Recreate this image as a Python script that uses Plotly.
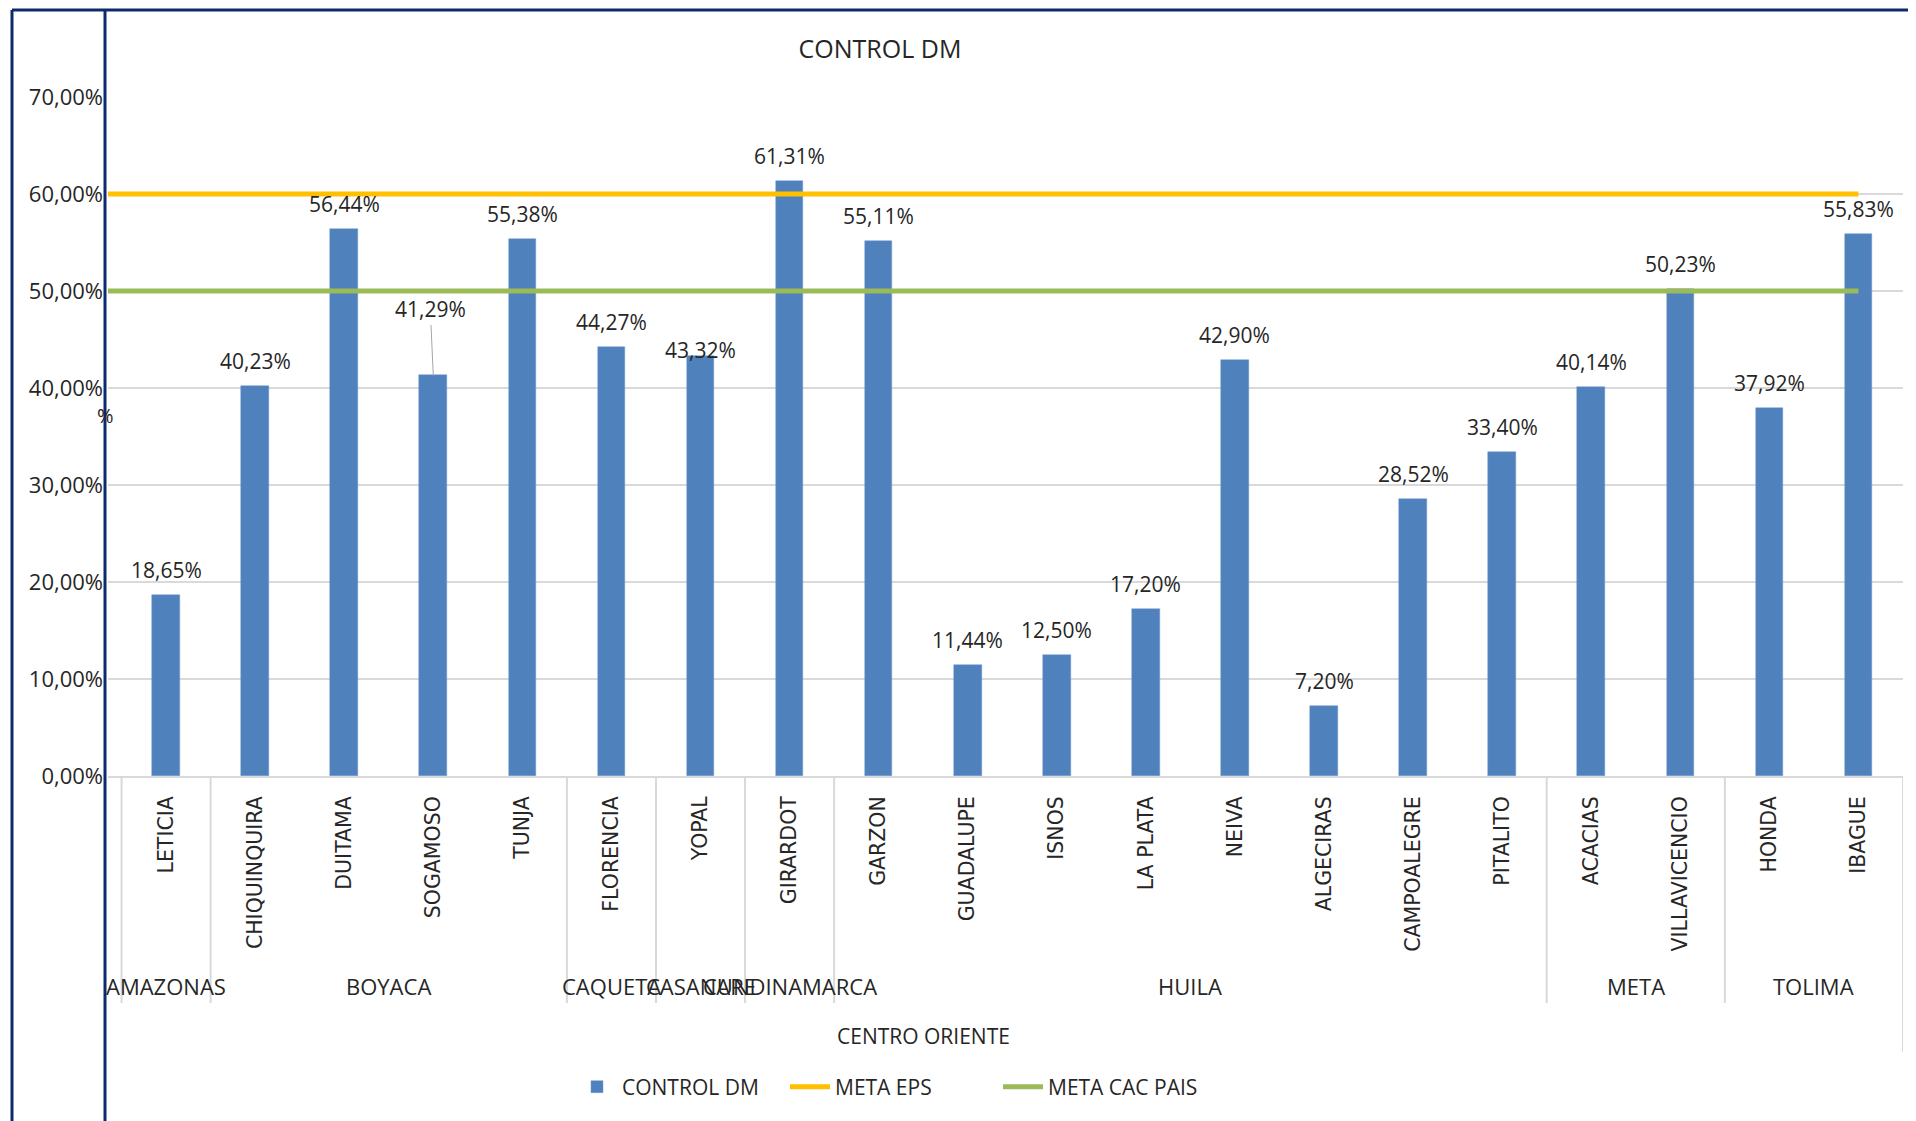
import plotly.graph_objects as go

# datos
ciudades = ['LETICIA', 'CHIQUINQUIRA', 'DUITAMA', 'SOGAMOSO', 'TUNJA', 'FLORENCIA', 'YOPAL',
            'GIRARDOT', 'GARZON', 'GUADALUPE', 'ISNOS', 'LA PLATA', 'NEIVA', 'ALGECIRAS',
            'CAMPOALEGRE', 'PITALITO', 'ACACIAS', 'VILLAVICENCIO', 'HONDA', 'IBAGUE']
departamentos = ['AMAZONAS', 'BOYACA', 'CAQUETA', 'CASANARE', 'CUNDINAMARCA', 'HUILA', 'META', 'TOLIMA']
ciudades_por_depto = [1, 4, 1, 1, 1, 8, 2, 2]
region = 'CENTRO ORIENTE'

control_dm = [18.65, 40.23, 56.44, 41.29, 55.38, 44.27, 43.32, 61.31, 55.11, 11.44,
              12.50, 17.20, 42.90, 7.20, 28.52, 33.40, 40.14, 50.23, 37.92, 55.83]
meta_eps = [60, 60, 60, 60, 60, 60, 60, 60, 60, 60, 60, 60, 60, 60, 60, 60, 60, 60, 60, 60]
meta_cac_pais = [50, 50, 50, 50, 50, 50, 50, 50, 50, 50, 50, 50, 50, 50, 50, 50, 50, 50, 50, 50]

y_ticks = [0, 10, 20, 30, 40, 50, 60, 70]

def pct(v):
    return f'{v:.2f}'.replace('.', ',') + '%'

# la pagina html deja 8px de margen alrededor de la figura
OFF = 8
W, H = 1916 - OFF, 1121 - OFF
ML, MR, MT, MB = 108 - OFF, 13, 97 - OFF, 1121 - 776
PW, PH = W - ML - MR, H - MT - MB
x_izq = -0.652
pos = list(range(len(ciudades)))

def px_x(p):
    # p en pixeles de la pagina
    return (p - OFF - ML) / PW

def px_y(p):
    return (H - MB - (p - OFF)) / PH

TXT = '#262626'
FONT = 'Open Sans'

fig = go.Figure()
fig.add_trace(go.Bar(
    x=pos, y=control_dm, name='CONTROL DM', width=0.31,
    marker=dict(color='#4F81BD', line=dict(color='#6E9AD0', width=0.5)),
))
fig.add_trace(go.Scatter(
    x=[x_izq] + pos, y=meta_eps[:1] + meta_eps, name='META EPS', mode='lines',
    line=dict(color='#FFC000', width=5),
))
fig.add_trace(go.Scatter(
    x=[x_izq] + pos, y=meta_cac_pais[:1] + meta_cac_pais, name='META CAC PAIS', mode='lines',
    line=dict(color='#9BBB59', width=5),
))

anots = []
# etiquetas de datos
for i, v in enumerate(control_dm):
    if ciudades[i] == 'SOGAMOSO':
        anots.append(dict(x=i, y=v, xref='x', yref='y', text=pct(v), showarrow=True,
                          arrowhead=0, arrowwidth=1, arrowcolor='#A6A6A6', ax=-3, ay=-66,
                          font=dict(family=FONT, size=21, color=TXT)))
    else:
        shift = 6 if ciudades[i] == 'YOPAL' else 25
        anots.append(dict(x=i, y=v, xref='x', yref='y', text=pct(v), showarrow=False,
                          yanchor='middle', yshift=shift,
                          font=dict(family=FONT, size=21, color=TXT)))

# departamentos y separadores
shapes = []
inicio = 0
bordes = [-0.5]
for depto, n in zip(departamentos, ciudades_por_depto):
    centro = inicio + (n - 1) / 2
    anots.append(dict(x=centro, y=px_y(986), xref='x', yref='paper', text=depto, showarrow=False,
                      yanchor='middle', font=dict(family=FONT, size=22, color=TXT)))
    inicio += n
    bordes.append(inicio - 0.5)
for j, b in enumerate(bordes):
    fondo = px_y(1052) if j == len(bordes) - 1 else px_y(1003)
    shapes.append(dict(type='line', xref='x', yref='paper', x0=b, x1=b, y0=0, y1=fondo,
                       line=dict(color='#D9D9D9', width=2)))

anots.append(dict(x=px_x(923), y=px_y(1036), xref='paper', yref='paper', text=region,
                  showarrow=False, yanchor='middle', font=dict(family=FONT, size=21, color=TXT)))
anots.append(dict(x=px_x(116), y=px_y(415), xref='paper', yref='paper', text='%', xanchor='right',
                  showarrow=False, yanchor='middle', font=dict(family=FONT, size=20, color=TXT)))

# marco azul de la diapositiva
NAVY = '#0E2A6E'
shapes += [
    dict(type='line', xref='paper', yref='paper', x0=px_x(12), x1=px_x(12), y0=px_y(10), y1=px_y(1130),
         line=dict(color=NAVY, width=3)),
    dict(type='line', xref='paper', yref='paper', x0=px_x(105), x1=px_x(105), y0=px_y(10), y1=px_y(1130),
         line=dict(color=NAVY, width=3)),
    dict(type='line', xref='paper', yref='paper', x0=px_x(12), x1=px_x(1925), y0=px_y(10), y1=px_y(10),
         line=dict(color=NAVY, width=3)),
]

fig.update_layout(
    width=W, height=H,
    margin=dict(l=ML, r=MR, t=MT, b=MB),
    paper_bgcolor='white', plot_bgcolor='white',
    font=dict(family=FONT, size=20, color=TXT),
    title=dict(text='CONTROL DM', x=px_x(880), xref='paper', xanchor='center',
               y=1 - (49 - OFF) / H, yanchor='middle', font=dict(family=FONT, size=25, color=TXT)),
    xaxis=dict(
        range=[x_izq, len(ciudades) - 0.5],
        tickvals=pos, ticktext=ciudades, tickangle=-90,
        tickfont=dict(family='DejaVu Sans', size=20.5, color=TXT),
        showgrid=False, zeroline=False,
        showline=True, linecolor='#D9D9D9', linewidth=2,
        ticks='', ticklabelstandoff=10,
    ),
    yaxis=dict(
        range=[0, 70],
        tickvals=y_ticks, ticktext=[pct(v) for v in y_ticks],
        showgrid=True, gridcolor='#D9D9D9', gridwidth=1.5,
        zeroline=False, showline=False, ticks='', ticklabelstandoff=4,
        tickfont=dict(family=FONT, size=22, color=TXT),
    ),
    bargap=0,
    showlegend=True,
    legend=dict(orientation='h', x=px_x(572), y=px_y(1087), xanchor='left', yanchor='middle',
                font=dict(family=FONT, size=21, color=TXT), itemwidth=40, traceorder='normal',
                entrywidth=158),
    annotations=anots,
    shapes=shapes,
)

fig.write_html('out.html')
